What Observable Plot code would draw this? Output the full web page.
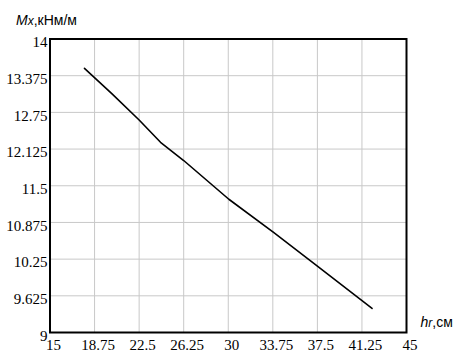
<!DOCTYPE html>
<html>
<head>
<meta charset="utf-8">
<script src="https://cdn.jsdelivr.net/npm/d3@7"></script>
<script src="https://cdn.jsdelivr.net/npm/@observablehq/plot@0.6"></script>
<style>
  html, body { margin: 0; padding: 0; background: #fff; }
  svg { overflow: visible; }
</style>
</head>
<body>
<div id="chart"></div>
<script>
const hr = [17.9, 20.2, 22.5, 24.3, 26.25, 30.05, 33.84, 37.5, 42.1];
const Mx = [13.50, 13.07, 12.62, 12.24, 11.93, 11.27, 10.70, 10.13, 9.41];
const xTicks = [15, 18.75, 22.5, 26.25, 30, 33.75, 37.5, 41.25, 45];
const yTicks = [9, 9.625, 10.25, 10.875, 11.5, 12.125, 12.75, 13.375, 14];
const xTickLabels = ["15", "18.75", "22.5", "26.25", "30", "33.75", "37.5", "41.25", "45"];
const yTickLabels = ["9", "9.625", "10.25", "10.875", "11.5", "12.125", "12.75", "13.375", "14"];

const data = hr.map((h, i) => ({hr: h, Mx: Mx[i]}));
const serif = "'Liberation Serif', 'Times New Roman', serif";

const plot = Plot.plot({
  width: 458,
  height: 352,
  marginLeft: 49.5,
  marginRight: 52,
  marginTop: 38.5,
  marginBottom: 20,
  style: {background: "#fff", color: "#000"},
  x: {domain: [15, 45]},
  y: {domain: [9, 14]},
  marks: [
    Plot.gridX(xTicks, {stroke: "#c8c8c8", strokeOpacity: 1, strokeWidth: 1}),
    Plot.gridY(yTicks, {stroke: "#c8c8c8", strokeOpacity: 1, strokeWidth: 1}),
    Plot.axisX(xTicks, {tickSize: 0, tickPadding: 7, dx: 3.5, label: null,
      fontFamily: serif, fontSize: 15,
      tickFormat: d => xTickLabels[xTicks.indexOf(d)], fill: "#000"}),
    Plot.axisY(yTicks, {tickSize: 0, tickPadding: 2.5, dy: 3.5, label: null,
      fontFamily: serif, fontSize: 15,
      tickFormat: d => yTickLabels[yTicks.indexOf(d)], fill: "#000"}),
    Plot.line(data, {x: "hr", y: "Mx", stroke: "#000", strokeWidth: 1.6}),
    Plot.frame({stroke: "#000", strokeWidth: 2})
  ]
});

const svg = d3.select(plot);
svg.selectAll("[aria-label^='x-axis'] text, [aria-label^='y-axis'] text")
  .attr("font-family", serif).attr("font-size", 15);

const t1 = svg.append("text")
  .attr("x", 16).attr("y", 25)
  .attr("text-anchor", "start")
  .attr("font-family", "Arial, 'Liberation Sans', sans-serif")
  .attr("font-size", 14)
  .attr("fill", "#000");
t1.append("tspan").attr("font-style", "italic").text("M");
t1.append("tspan").attr("font-style", "italic").attr("font-size", 12).text("x");
t1.append("tspan").text(",кНм/м");

const t2 = svg.append("text")
  .attr("x", 420.5).attr("y", 327)
  .attr("text-anchor", "start")
  .attr("font-family", "Arial, 'Liberation Sans', sans-serif")
  .attr("font-size", 14)
  .attr("fill", "#000");
t2.append("tspan").attr("font-style", "italic").text("h");
t2.append("tspan").attr("font-style", "italic").attr("font-size", 12).text("r");
t2.append("tspan").text(",см");

document.getElementById("chart").appendChild(plot);
</script>
</body>
</html>
